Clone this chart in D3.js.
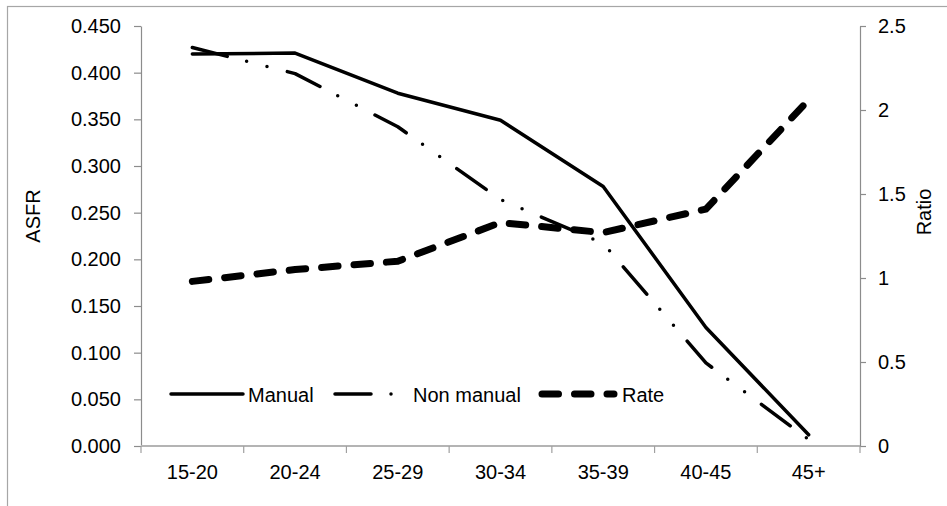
<!DOCTYPE html>
<html>
<head>
<meta charset="utf-8">
<script src="https://cdn.jsdelivr.net/npm/d3@7"></script>
<style>
  body { margin: 0; background: #fff; }
  text { font-family: "Liberation Sans", Arial, sans-serif; fill: #000; }
</style>
</head>
<body>
<script>
// Chart data
const categories = ["15-20", "20-24", "25-29", "30-34", "35-39", "40-45", "45+"];
const manual     = [0.420, 0.421, 0.378, 0.349, 0.278, 0.127, 0.012];
const nonManual  = [0.427, 0.399, 0.342, 0.264, 0.217, 0.089, 0.007];
const rate       = [0.98, 1.05, 1.10, 1.33, 1.27, 1.41, 2.06];
const leftTicks  = [0, 0.05, 0.1, 0.15, 0.2, 0.25, 0.3, 0.35, 0.4, 0.45];
const rightTicks = [0, 0.5, 1, 1.5, 2, 2.5];

const width = 947, height = 506;
const plot = {left: 141, right: 860, top: 26, bottom: 446};
const fontSize = 20;

const svg = d3.select("body").append("svg")
    .attr("width", width)
    .attr("height", height);

// outer chart border (runs off the right and bottom edge)
svg.append("rect")
    .attr("x", 7.5).attr("y", 6.5)
    .attr("width", 1000).attr("height", 600)
    .attr("fill", "none")
    .attr("stroke", "#a6a6a6")
    .attr("stroke-width", 1.2);

const x = d3.scaleBand()
    .domain(categories)
    .range([plot.left, plot.right]);

const yLeft = d3.scaleLinear().domain([0, 0.45]).range([plot.bottom, plot.top]);
const yRight = d3.scaleLinear().domain([0, 2.5]).range([plot.bottom, plot.top]);

// left axis
const gLeft = svg.append("g")
    .attr("transform", `translate(${plot.left},0)`)
    .call(d3.axisLeft(yLeft).tickValues(leftTicks).tickFormat(d3.format(".3f"))
        .tickSize(7).tickSizeOuter(0).tickPadding(13));

// right axis
const gRight = svg.append("g")
    .attr("transform", `translate(${plot.right},0)`)
    .call(d3.axisRight(yRight).tickValues(rightTicks).tickFormat(d => d3.format("")(d))
        .tickSize(6).tickSizeOuter(0).tickPadding(12));

[gLeft, gRight].forEach(g => {
    g.select(".domain").attr("stroke", "#8c8c8c").attr("stroke-width", 1.2);
    g.selectAll(".tick line").attr("stroke", "#8c8c8c").attr("stroke-width", 1.2);
    g.selectAll(".tick text").attr("font-size", fontSize).attr("fill", "#000")
        .style("font-family", "'Liberation Sans', Arial, sans-serif");
});

// category axis: ticks sit between the bands
const gX = svg.append("g");
gX.append("line")
    .attr("x1", plot.left).attr("x2", plot.right)
    .attr("y1", plot.bottom).attr("y2", plot.bottom)
    .attr("stroke", "#b4b4b4")
    .attr("stroke-width", 2);
gX.selectAll(".xtick")
    .data(d3.range(categories.length + 1))
    .enter().append("line")
    .attr("x1", i => plot.left + i * x.step())
    .attr("x2", i => plot.left + i * x.step())
    .attr("y1", plot.bottom).attr("y2", plot.bottom + 7)
    .attr("stroke", "#a0a0a0")
    .attr("stroke-width", 1.2);
gX.selectAll(".xlabel")
    .data(categories)
    .enter().append("text")
    .attr("x", d => x(d) + x.bandwidth() / 2)
    .attr("y", plot.bottom + 33)
    .attr("text-anchor", "middle")
    .attr("font-size", fontSize)
    .text(d => d);

// axis titles
svg.append("text")
    .attr("transform", "translate(40,216) rotate(-90)")
    .attr("text-anchor", "middle")
    .attr("font-size", fontSize)
    .text("ASFR");
svg.append("text")
    .attr("transform", "translate(931,212) rotate(-90)")
    .attr("text-anchor", "middle")
    .attr("font-size", fontSize)
    .text("Ratio");

const cx = (d, i) => x(categories[i]) + x.bandwidth() / 2;

const series = [
    {name: "Manual", values: manual, y: yLeft, width: 3.5, dash: null},
    {name: "Non manual", values: nonManual, y: yLeft, width: 3.5, dash: "36 20 0 21 0 21"},
    {name: "Rate", values: rate, y: yRight, width: 7, dash: "16.5 16"}
];

series.forEach(s => {
    const line = d3.line()
        .x(cx)
        .y(d => s.y(d));
    svg.append("path")
        .datum(s.values)
        .attr("fill", "none")
        .attr("stroke", "#000")
        .attr("stroke-width", s.width)
        .attr("stroke-linecap", "round")
        .attr("stroke-linejoin", "round")
        .attr("stroke-dasharray", s.dash)
        .attr("d", line);
});

// legend
const legendItems = [
    {s: series[0], x0: 171, tx: 248},
    {s: series[1], x0: 335, tx: 413},
    {s: series[2], x0: 542, tx: 622}
];
const legendY = 394;
legendItems.forEach(item => {
    svg.append("line")
        .attr("x1", item.x0).attr("x2", item.x0 + 72)
        .attr("y1", legendY).attr("y2", legendY)
        .attr("stroke", "#000")
        .attr("stroke-width", item.s.width)
        .attr("stroke-linecap", "round")
        .attr("stroke-dasharray", item.s.dash);
    svg.append("text")
        .attr("x", item.tx)
        .attr("y", legendY + 8)
        .attr("font-size", fontSize)
        .text(item.s.name);
});
</script>
</body>
</html>
